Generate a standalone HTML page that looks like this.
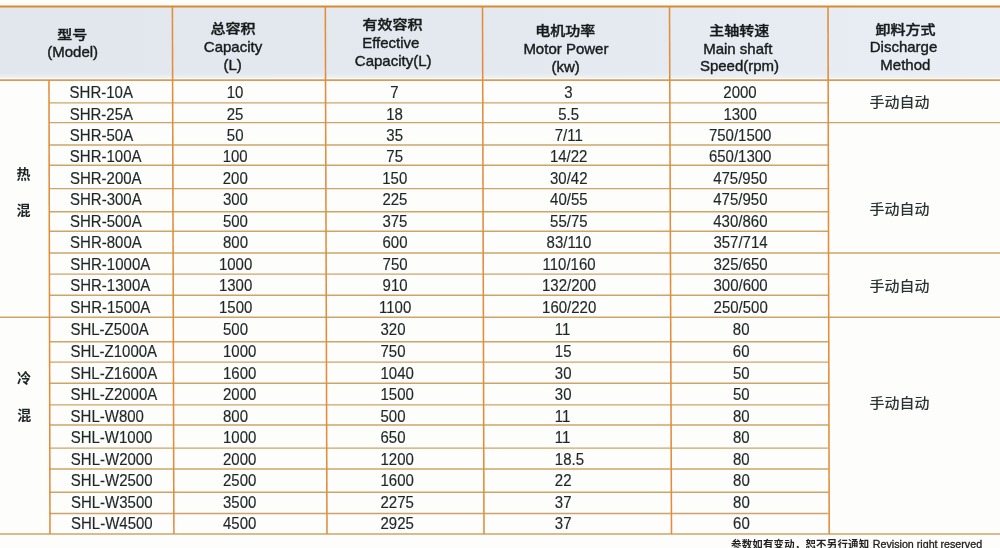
<!DOCTYPE html>
<html><head><meta charset="utf-8"><title>SHR/SHL mixer specifications</title>
<style>
html,body{margin:0;padding:0;}
body{width:1000px;height:548px;position:relative;overflow:hidden;background:#fdfdfb;
font-family:"Liberation Sans","Noto Sans CJK SC",sans-serif;color:#1e2727;-webkit-text-stroke:0.15px #1e2727;}
.t{position:absolute;white-space:nowrap;line-height:1;font-size:15.00px;}
.c{text-align:center;width:200px;}
.d{transform:scaleY(1.07);transform-origin:50% 7.9px;}
.h{color:#161b1b;-webkit-text-stroke:0.4px #161b1b;}
.sec{font-weight:500;-webkit-text-stroke:0;color:#1e2424;}
.cj{font-family:"Liberation Sans","Noto Sans CJK SC","WenQuanYi Zen Hei",sans-serif;font-weight:700;transform-origin:50% 0;}
.h.cj{transform:scaleY(0.84);font-weight:500;-webkit-text-stroke:0.45px #161b1b;}
.dm{transform:scaleY(0.88);font-weight:500;color:#2a3232;-webkit-text-stroke:0;}
.hdr{position:absolute;left:0;top:7px;width:1000px;height:71px;background:linear-gradient(rgba(237,242,247,0) 0,rgba(237,242,247,0) 66px,#edf2f7 71px),linear-gradient(90deg,#e2e7ee 0,#e4e9f0 500px,#e9eef5 1000px);}
svg{position:absolute;left:0;top:0;}
</style></head><body>
<div id="w" style="position:absolute;left:0;top:0;width:1000px;height:548px;filter:blur(0.3px)">
<div class="hdr"></div>

<svg width="1000" height="548" viewBox="0 0 1000 548">
<line x1="0" y1="6.5" x2="1000" y2="6.5" stroke="#d9892f" stroke-width="1.9"/>
<line x1="0" y1="80.1" x2="1000" y2="80.1" stroke="#d99b55" stroke-width="1.7"/>
<line x1="49.0" y1="102.9" x2="828.5" y2="102.9" stroke="#cda56a" stroke-width="1.4"/>
<line x1="48.9" y1="122.6" x2="1000.0" y2="122.6" stroke="#cda56a" stroke-width="1.4"/>
<line x1="49.0" y1="145.0" x2="828.5" y2="145.0" stroke="#cda56a" stroke-width="1.4"/>
<line x1="49.0" y1="165.3" x2="828.5" y2="165.3" stroke="#cda56a" stroke-width="1.4"/>
<line x1="49.0" y1="188.6" x2="828.5" y2="188.6" stroke="#cda56a" stroke-width="1.4"/>
<line x1="49.0" y1="211.8" x2="828.5" y2="211.8" stroke="#cda56a" stroke-width="1.4"/>
<line x1="49.0" y1="231.3" x2="828.5" y2="231.3" stroke="#cda56a" stroke-width="1.4"/>
<line x1="48.9" y1="253.0" x2="1000.0" y2="253.0" stroke="#cda56a" stroke-width="1.4"/>
<line x1="49.0" y1="274.1" x2="828.5" y2="274.1" stroke="#cda56a" stroke-width="1.4"/>
<line x1="49.0" y1="295.3" x2="828.5" y2="295.3" stroke="#cda56a" stroke-width="1.4"/>
<line x1="0.0" y1="317.3" x2="1000.0" y2="317.3" stroke="#cda56a" stroke-width="1.4"/>
<line x1="49.0" y1="341.8" x2="828.5" y2="341.8" stroke="#cda56a" stroke-width="1.4"/>
<line x1="49.0" y1="362.1" x2="828.5" y2="362.1" stroke="#cda56a" stroke-width="1.4"/>
<line x1="49.0" y1="383.2" x2="828.5" y2="383.2" stroke="#cda56a" stroke-width="1.4"/>
<line x1="49.0" y1="404.9" x2="828.5" y2="404.9" stroke="#cda56a" stroke-width="1.4"/>
<line x1="49.0" y1="425.0" x2="828.5" y2="425.0" stroke="#cda56a" stroke-width="1.4"/>
<line x1="49.0" y1="448.1" x2="828.5" y2="448.1" stroke="#cda56a" stroke-width="1.4"/>
<line x1="49.0" y1="469.0" x2="828.5" y2="469.0" stroke="#cda56a" stroke-width="1.4"/>
<line x1="49.0" y1="492.3" x2="828.5" y2="492.3" stroke="#cda56a" stroke-width="1.4"/>
<line x1="49.0" y1="513.5" x2="828.5" y2="513.5" stroke="#cda56a" stroke-width="1.4"/>
<line x1="0.0" y1="534.0" x2="1000.0" y2="534.0" stroke="#cda56a" stroke-width="1.4"/>
<line x1="48.97" y1="80.1" x2="50.00" y2="534" stroke="#e18d3c" stroke-width="1.55"/>
<line x1="172.40" y1="6.6" x2="173.90" y2="534" stroke="#e18d3c" stroke-width="1.55"/>
<line x1="325.30" y1="6.6" x2="327.00" y2="534" stroke="#e18d3c" stroke-width="1.55"/>
<line x1="482.50" y1="6.6" x2="484.00" y2="534" stroke="#e18d3c" stroke-width="1.55"/>
<line x1="669.50" y1="6.6" x2="671.50" y2="534" stroke="#e18d3c" stroke-width="1.55"/>
<line x1="828.00" y1="6.6" x2="829.20" y2="534" stroke="#e18d3c" stroke-width="1.55"/>
</svg>
<div class="t c h cj" style="left:-27.8px;top:27.8px;font-size:15.0px">型号</div>
<div class="t c h" style="left:-27.3px;top:43.7px;">(Model)</div>
<div class="t c h cj" style="left:132.9px;top:22.4px;font-size:15.0px">总容积</div>
<div class="t c h" style="left:133.0px;top:38.5px;">Capacity</div>
<div class="t c h" style="left:132.7px;top:57.4px;">(L)</div>
<div class="t c h cj" style="left:292.6px;top:18.4px;font-size:15.0px">有效容积</div>
<div class="t c h" style="left:290.8px;top:34.5px;">Effective</div>
<div class="t c h" style="left:293.2px;top:53.2px;">Capacity(L)</div>
<div class="t c h cj" style="left:465.3px;top:24.2px;font-size:15.0px">电机功率</div>
<div class="t c h" style="left:465.9px;top:40.5px;">Motor Power</div>
<div class="t c h" style="left:465.6px;top:58.6px;">(kw)</div>
<div class="t c h cj" style="left:639.2px;top:24.2px;font-size:15.0px">主轴转速</div>
<div class="t c h" style="left:637.8px;top:40.5px;">Main shaft</div>
<div class="t c h" style="left:639.5px;top:58.0px;">Speed(rpm)</div>
<div class="t c h cj" style="left:805.4px;top:22.6px;font-size:15.0px">卸料方式</div>
<div class="t c h" style="left:803.5px;top:38.7px;">Discharge</div>
<div class="t c h" style="left:805.4px;top:56.8px;">Method</div>
<div class="t c cj sec" style="left:-76.6px;top:167.1px;font-size:14.0px">热</div>
<div class="t c cj sec" style="left:-76.5px;top:203.0px;font-size:14.0px">混</div>
<div class="t c cj sec" style="left:-76.0px;top:370.7px;font-size:14.0px">冷</div>
<div class="t c cj sec" style="left:-75.7px;top:407.6px;font-size:14.0px">混</div>
<div class="t c cj dm" style="left:799.4px;top:96.4px;font-size:15.0px">手动自动</div>
<div class="t c cj dm" style="left:799.4px;top:202.6px;font-size:15.0px">手动自动</div>
<div class="t c cj dm" style="left:799.4px;top:279.6px;font-size:15.0px">手动自动</div>
<div class="t c cj dm" style="left:799.4px;top:396.8px;font-size:15.0px">手动自动</div>
<div class="t d" style="left:69.6px;top:85.0px;">SHR-10A</div>
<div class="t c d" style="left:135.0px;top:85.0px;">10</div>
<div class="t c d" style="left:294.5px;top:85.0px;">7</div>
<div class="t c d" style="left:468.5px;top:85.0px;">3</div>
<div class="t c d" style="left:640.0px;top:85.0px;">2000</div>
<div class="t d" style="left:69.7px;top:106.7px;">SHR-25A</div>
<div class="t c d" style="left:135.1px;top:106.7px;">25</div>
<div class="t c d" style="left:294.6px;top:106.7px;">18</div>
<div class="t c d" style="left:468.6px;top:106.7px;">5.5</div>
<div class="t c d" style="left:640.1px;top:106.7px;">1300</div>
<div class="t d" style="left:69.8px;top:128.1px;">SHR-50A</div>
<div class="t c d" style="left:135.2px;top:128.1px;">50</div>
<div class="t c d" style="left:294.7px;top:128.1px;">35</div>
<div class="t c d" style="left:468.7px;top:128.1px;">7/11</div>
<div class="t c d" style="left:640.2px;top:128.1px;">750/1500</div>
<div class="t d" style="left:69.8px;top:149.2px;">SHR-100A</div>
<div class="t c d" style="left:135.2px;top:149.2px;">100</div>
<div class="t c d" style="left:294.7px;top:149.2px;">75</div>
<div class="t c d" style="left:468.7px;top:149.2px;">14/22</div>
<div class="t c d" style="left:640.2px;top:149.2px;">650/1300</div>
<div class="t d" style="left:69.9px;top:170.7px;">SHR-200A</div>
<div class="t c d" style="left:135.3px;top:170.7px;">200</div>
<div class="t c d" style="left:294.8px;top:170.7px;">150</div>
<div class="t c d" style="left:468.8px;top:170.7px;">30/42</div>
<div class="t c d" style="left:640.3px;top:170.7px;">475/950</div>
<div class="t d" style="left:70.0px;top:192.2px;">SHR-300A</div>
<div class="t c d" style="left:135.4px;top:192.2px;">300</div>
<div class="t c d" style="left:294.9px;top:192.2px;">225</div>
<div class="t c d" style="left:468.9px;top:192.2px;">40/55</div>
<div class="t c d" style="left:640.4px;top:192.2px;">475/950</div>
<div class="t d" style="left:70.0px;top:214.0px;">SHR-500A</div>
<div class="t c d" style="left:135.4px;top:214.0px;">500</div>
<div class="t c d" style="left:294.9px;top:214.0px;">375</div>
<div class="t c d" style="left:468.9px;top:214.0px;">55/75</div>
<div class="t c d" style="left:640.4px;top:214.0px;">430/860</div>
<div class="t d" style="left:70.1px;top:235.2px;">SHR-800A</div>
<div class="t c d" style="left:135.5px;top:235.2px;">800</div>
<div class="t c d" style="left:295.0px;top:235.2px;">600</div>
<div class="t c d" style="left:469.0px;top:235.2px;">83/110</div>
<div class="t c d" style="left:640.5px;top:235.2px;">357/714</div>
<div class="t d" style="left:70.2px;top:256.8px;">SHR-1000A</div>
<div class="t c d" style="left:135.6px;top:256.8px;">1000</div>
<div class="t c d" style="left:295.1px;top:256.8px;">750</div>
<div class="t c d" style="left:469.1px;top:256.8px;">110/160</div>
<div class="t c d" style="left:640.6px;top:256.8px;">325/650</div>
<div class="t d" style="left:70.2px;top:278.4px;">SHR-1300A</div>
<div class="t c d" style="left:135.6px;top:278.4px;">1300</div>
<div class="t c d" style="left:295.1px;top:278.4px;">910</div>
<div class="t c d" style="left:469.1px;top:278.4px;">132/200</div>
<div class="t c d" style="left:640.6px;top:278.4px;">300/600</div>
<div class="t d" style="left:70.3px;top:299.9px;">SHR-1500A</div>
<div class="t c d" style="left:135.7px;top:299.9px;">1500</div>
<div class="t c d" style="left:295.2px;top:299.9px;">1100</div>
<div class="t c d" style="left:469.2px;top:299.9px;">160/220</div>
<div class="t c d" style="left:640.7px;top:299.9px;">250/500</div>
<div class="t d" style="left:70.4px;top:322.4px;">SHL-Z500A</div>
<div class="t d" style="left:223.0px;top:322.4px;">500</div>
<div class="t d" style="left:380.5px;top:322.4px;">320</div>
<div class="t d" style="left:554.8px;top:322.4px;">11</div>
<div class="t c d" style="left:641.2px;top:322.4px;">80</div>
<div class="t d" style="left:70.4px;top:344.3px;">SHL-Z1000A</div>
<div class="t d" style="left:223.0px;top:344.3px;">1000</div>
<div class="t d" style="left:380.5px;top:344.3px;">750</div>
<div class="t d" style="left:554.8px;top:344.3px;">15</div>
<div class="t c d" style="left:641.2px;top:344.3px;">60</div>
<div class="t d" style="left:70.5px;top:366.2px;">SHL-Z1600A</div>
<div class="t d" style="left:223.0px;top:366.2px;">1600</div>
<div class="t d" style="left:380.5px;top:366.2px;">1040</div>
<div class="t d" style="left:554.8px;top:366.2px;">30</div>
<div class="t c d" style="left:641.3px;top:366.2px;">50</div>
<div class="t d" style="left:70.6px;top:387.4px;">SHL-Z2000A</div>
<div class="t d" style="left:223.0px;top:387.4px;">2000</div>
<div class="t d" style="left:380.5px;top:387.4px;">1500</div>
<div class="t d" style="left:554.8px;top:387.4px;">30</div>
<div class="t c d" style="left:641.3px;top:387.4px;">50</div>
<div class="t d" style="left:70.6px;top:408.8px;">SHL-W800</div>
<div class="t d" style="left:223.0px;top:408.8px;">800</div>
<div class="t d" style="left:380.5px;top:408.8px;">500</div>
<div class="t d" style="left:554.8px;top:408.8px;">11</div>
<div class="t c d" style="left:641.3px;top:408.8px;">80</div>
<div class="t d" style="left:70.7px;top:430.3px;">SHL-W1000</div>
<div class="t d" style="left:223.0px;top:430.3px;">1000</div>
<div class="t d" style="left:380.5px;top:430.3px;">650</div>
<div class="t d" style="left:554.8px;top:430.3px;">11</div>
<div class="t c d" style="left:641.3px;top:430.3px;">80</div>
<div class="t d" style="left:70.8px;top:451.7px;">SHL-W2000</div>
<div class="t d" style="left:223.0px;top:451.7px;">2000</div>
<div class="t d" style="left:380.5px;top:451.7px;">1200</div>
<div class="t d" style="left:554.8px;top:451.7px;">18.5</div>
<div class="t c d" style="left:641.3px;top:451.7px;">80</div>
<div class="t d" style="left:70.8px;top:473.4px;">SHL-W2500</div>
<div class="t d" style="left:223.0px;top:473.4px;">2500</div>
<div class="t d" style="left:380.5px;top:473.4px;">1600</div>
<div class="t d" style="left:554.8px;top:473.4px;">22</div>
<div class="t c d" style="left:641.4px;top:473.4px;">80</div>
<div class="t d" style="left:70.9px;top:494.9px;">SHL-W3500</div>
<div class="t d" style="left:223.0px;top:494.9px;">3500</div>
<div class="t d" style="left:380.5px;top:494.9px;">2275</div>
<div class="t d" style="left:554.8px;top:494.9px;">37</div>
<div class="t c d" style="left:641.4px;top:494.9px;">80</div>
<div class="t d" style="left:71.0px;top:516.4px;">SHL-W4500</div>
<div class="t d" style="left:223.0px;top:516.4px;">4500</div>
<div class="t d" style="left:380.5px;top:516.4px;">2925</div>
<div class="t d" style="left:554.8px;top:516.4px;">37</div>
<div class="t c d" style="left:641.4px;top:516.4px;">60</div>
<div class="t cj foot" style="left:731px;top:540.1px;font-size:10.4px;font-weight:700;-webkit-text-stroke:0;color:#222;letter-spacing:0.25px">参数如有变动，恕不另行通知</div>
<div class="t foot" style="left:872.8px;top:539.3px;font-size:10.7px;-webkit-text-stroke:0.3px #222;color:#222">Revision right reserved</div>
</div></body></html>
